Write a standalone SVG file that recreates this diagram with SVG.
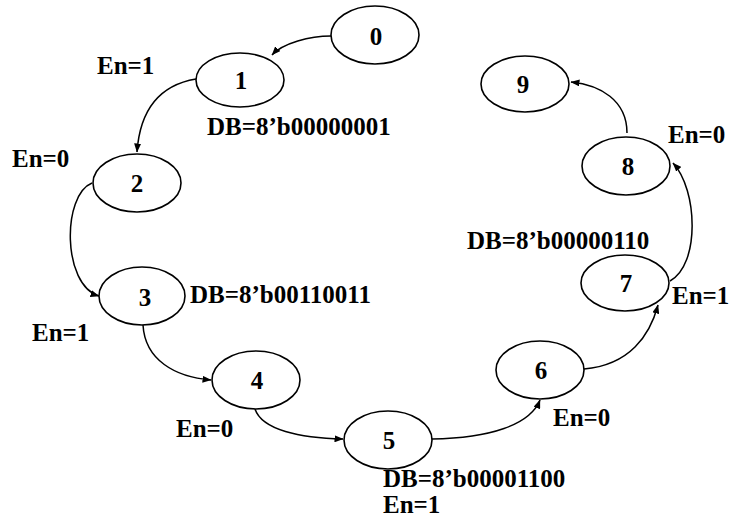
<svg xmlns="http://www.w3.org/2000/svg" width="732" height="522" viewBox="0 0 732 522">
<style>
.n{fill:#fff;stroke:#000;stroke-width:1.6}
.t{font-family:"Liberation Serif","Times New Roman",serif;font-weight:bold;font-size:25px;fill:#000}
.c{text-anchor:middle}
.e{fill:none;stroke:#000;stroke-width:1.5;marker-end:url(#a)}
</style>
<defs>
<marker id="a" markerUnits="userSpaceOnUse" markerWidth="9" markerHeight="7" refX="8.5" refY="3.5" orient="auto">
<path d="M0,0 L9,3.5 L0,7 z" fill="#000"/>
</marker>
</defs>
<rect width="732" height="522" fill="#fff"/>
<g id="connectors">
<path class="e" d="M331,36 C310,36 283,43 272,55"/>
<path class="e" d="M196,79 C160,85 140,110 137,152"/>
<path class="e" d="M92,183 C62,195 62,285 99,296"/>
<path class="e" d="M143,325 C145,360 175,377 211,380"/>
<path class="e" d="M255,409 C262,430 300,438 343,439"/>
<path class="e" d="M432,439 C490,438 530,425 540,400"/>
<path class="e" d="M584,369 C630,365 650,335 658,305"/>
<path class="e" d="M670,281 C700,265 698,190 673,163"/>
<path class="e" d="M627,133 C627,100 600,85 571,82"/>
</g>
<g id="node0"><ellipse class="n" cx="375" cy="35" rx="44" ry="29"/><text class="t c" x="376" y="45">0</text></g>
<g id="node1"><ellipse class="n" cx="240" cy="80" rx="44" ry="27"/><text class="t c" x="241" y="89">1</text></g>
<g id="node2"><ellipse class="n" cx="137" cy="183" rx="44" ry="29"/><text class="t c" x="137" y="192">2</text></g>
<g id="node3"><ellipse class="n" cx="142" cy="296" rx="43" ry="29"/><text class="t c" x="145" y="306">3</text></g>
<g id="node4"><ellipse class="n" cx="256" cy="380" rx="44" ry="29"/><text class="t c" x="257" y="389">4</text></g>
<g id="node5"><ellipse class="n" cx="388" cy="440" rx="44" ry="29"/><text class="t c" x="389" y="449">5</text></g>
<g id="node6"><ellipse class="n" cx="540" cy="370" rx="44" ry="29"/><text class="t c" x="541" y="379">6</text></g>
<g id="node7"><ellipse class="n" cx="625" cy="283" rx="44" ry="28"/><text class="t c" x="626" y="292">7</text></g>
<g id="node8"><ellipse class="n" cx="626" cy="166" rx="44" ry="29"/><text class="t c" x="628" y="175">8</text></g>
<g id="node9"><ellipse class="n" cx="525" cy="84" rx="44" ry="28"/><text class="t c" x="523" y="93">9</text></g>
<g id="labels">
<text class="t" x="97" y="74">En=1</text>
<text class="t" x="207" y="135">DB=8’b00000001</text>
<text class="t" x="12" y="167">En=0</text>
<text class="t" x="190" y="303">DB=8’b00110011</text>
<text class="t" x="32" y="341">En=1</text>
<text class="t" x="176" y="437">En=0</text>
<text class="t" x="383" y="487">DB=8’b00001100</text>
<text class="t" x="383" y="513">En=1</text>
<text class="t" x="553" y="426">En=0</text>
<text class="t" x="672" y="304">En=1</text>
<text class="t" x="467" y="249">DB=8’b00000110</text>
<text class="t" x="668" y="143">En=0</text>
</g>
</svg>
